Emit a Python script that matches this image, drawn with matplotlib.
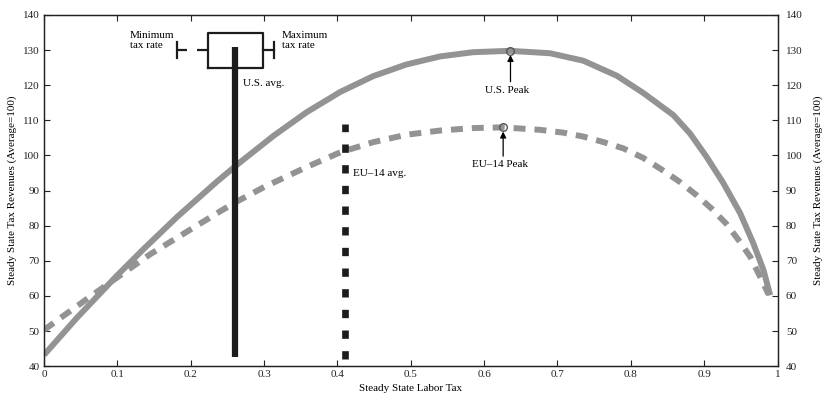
import matplotlib
matplotlib.use("Agg")
import matplotlib.pyplot as plt

plt.rcParams["font.family"] = ["Liberation Serif", "DejaVu Serif"]
plt.rcParams["font.size"] = 8

# steady state revenue curves
us_tax = [0, 0.045, 0.1, 0.136, 0.182, 0.236, 0.267, 0.313, 0.358, 0.404, 0.449, 0.494,
          0.54, 0.585, 0.635, 0.69, 0.735, 0.781, 0.817, 0.858, 0.881, 0.903, 0.926,
          0.949, 0.967, 0.981, 0.99]
us_rev = [43.2, 53.8, 65.9, 73.4, 82.6, 92.6, 98.0, 105.6, 112.3, 118.1, 122.6, 125.9,
          128.2, 129.4, 129.8, 129.1, 127.0, 122.7, 117.8, 111.5, 106.2, 99.7, 92.2,
          83.6, 75.0, 67.3, 60.2]

eu_tax = [0, 0.027, 0.055, 0.1, 0.145, 0.191, 0.241, 0.264, 0.3, 0.358, 0.404, 0.449,
          0.494, 0.54, 0.585, 0.626, 0.676, 0.708, 0.735, 0.763, 0.79, 0.817, 0.842,
          0.866, 0.889, 0.91, 0.93, 0.947, 0.963, 0.976, 0.988]
eu_rev = [50.3, 54.4, 58.6, 65.3, 71.9, 77.8, 84.2, 87.0, 91.0, 96.7, 100.9, 103.8,
          105.9, 107.1, 107.8, 108.0, 107.3, 106.5, 105.4, 103.8, 102.0, 99.3, 96.0,
          92.6, 88.8, 84.9, 80.6, 75.9, 71.1, 65.6, 60.4]

# averages and peaks
us_avg = 0.26
us_avg_span = [42.5, 131]
eu_avg = 0.41
eu_avg_span = [42, 109]
us_peak = (0.636, 129.8)
eu_peak = (0.626, 108.0)

# range of US tax rates (box + whiskers)
box_lo, box_hi = 0.224, 0.298
box_bottom, box_top = 125, 135
min_rate, max_rate = 0.182, 0.313
cap_half = 2.2

yticks = list(range(40, 141, 10))
xticks = [0, 0.1, 0.2, 0.3, 0.4, 0.5, 0.6, 0.7, 0.8, 0.9, 1]
xlabels = ["0", "0.1", "0.2", "0.3", "0.4", "0.5", "0.6", "0.7", "0.8", "0.9", "1"]

gray = "#939393"
dark = "#1c1c1c"

fig = plt.figure(figsize=(8.39, 4.05), dpi=100)
ax = fig.add_axes([0.0524, 0.0958, 0.8743, 0.8672])

ax.plot(us_tax, us_rev, color=gray, lw=4.3, solid_capstyle="butt",
        solid_joinstyle="round", zorder=2)
ax.plot(eu_tax, eu_rev, color=gray, lw=4.3, linestyle=(0, (2.0, 1.5)),
        dash_capstyle="butt", dash_joinstyle="round", zorder=2)

ax.plot([us_avg, us_avg], us_avg_span, color=dark, lw=4.5, solid_capstyle="butt", zorder=3)
ax.plot([eu_avg, eu_avg], eu_avg_span, color=dark, lw=4.8, linestyle=(0, (1.25, 1.85)),
        dash_capstyle="butt", zorder=3)

# box and whiskers
ax.plot([box_lo, box_hi, box_hi, box_lo, box_lo], [box_bottom, box_bottom, box_top, box_top, box_bottom],
        color=dark, lw=1.6, zorder=3)
mid = (box_bottom + box_top) / 2
ax.plot([min_rate, box_lo], [mid, mid], color=dark, lw=1.6, linestyle=(0, (4.5, 4.5)),
        dash_capstyle="butt", zorder=3)
ax.plot([box_hi, max_rate], [mid, mid], color=dark, lw=1.6, zorder=3)
for xc in (min_rate, max_rate):
    ax.plot([xc, xc], [mid - cap_half, mid + cap_half], color=dark, lw=1.6, zorder=3)

# peaks
for (px, py), label, ty in ((us_peak, "U.S. Peak", 118.5), (eu_peak, "EU\u201314 Peak", 97.3)):
    ax.plot(px, py, "o", mfc="none", mec="#555555", mew=1.0, ms=5.5, zorder=4)
    ax.annotate("", xy=(px, py - 1.2), xytext=(px, ty + 2.5),
                arrowprops=dict(arrowstyle="-|>", color="black", lw=0.9,
                                mutation_scale=9, shrinkA=0, shrinkB=0))
    ax.text(px - 0.004, ty, label, ha="center", va="center", fontsize=8)

ax.text(0.271, 120.4, "U.S. avg.", ha="left", va="center", fontsize=8)
ax.text(0.421, 94.8, "EU\u201314 avg.", ha="left", va="center", fontsize=8)
ax.text(0.178, 132.8, "Minimum\ntax rate", ha="right", va="center", multialignment="left",
        fontsize=8, linespacing=1.1)
ax.text(0.324, 132.8, "Maximum\ntax rate", ha="left", va="center", multialignment="left",
        fontsize=8, linespacing=1.1)

ax.set_xlim(0, 1)
ax.set_ylim(40, 140)
ax.set_xticks(xticks)
ax.set_xticklabels(xlabels)
ax.set_yticks(yticks)
ax.tick_params(direction="in", length=4, width=0.8, top=True, right=True,
               labelsize=8, colors="#222222", pad=3)
ax.set_xlabel("Steady State Labor Tax", fontsize=8, labelpad=3)
ax.set_ylabel("Steady State Tax Revenues (Average=100)", fontsize=8, labelpad=4)

ax2 = ax.twinx()
ax2.set_ylim(40, 140)
ax2.set_yticks(yticks)
ax2.tick_params(direction="in", length=4, width=0.8, labelsize=8, colors="#222222", pad=6)
ax2.set_ylabel("Steady State Tax Revenues (Average=100)", fontsize=8, labelpad=8)

for a in (ax, ax2):
    for s in a.spines.values():
        s.set_linewidth(0.9)
        s.set_color("#222222")

fig.savefig("out.png", dpi=100)
